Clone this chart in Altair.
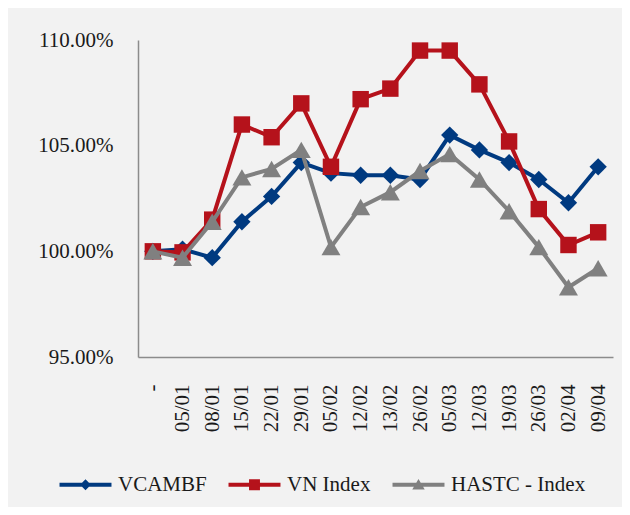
import altair as alt
import pandas as pd

dates = ["-", "05/01", "08/01", "15/01", "22/01", "29/01", "05/02", "12/02",
         "13/02", "26/02", "05/03", "12/03", "19/03", "26/03", "02/04", "09/04"]
vcambf = [100.0, 100.1, 99.7, 101.4, 102.6, 104.2, 103.7, 103.6,
          103.6, 103.4, 105.5, 104.8, 104.2, 103.4, 102.3, 104.0]
vn_index = [100.0, 99.95, 101.5, 106.0, 105.4, 107.0, 104.0, 107.2,
            107.7, 109.5, 109.5, 107.9, 105.2, 102.0, 100.3, 100.9]
hastc = [100.0, 99.7, 101.4, 103.5, 103.9, 104.8, 100.2, 102.1,
         102.8, 103.8, 104.6, 103.4, 101.9, 100.2, 98.3, 99.2]

series = ["VCAMBF", "VN Index", "HASTC - Index"]
colors = ["#003A80", "#B5121B", "#808080"]
shapes = ["diamond", "square", "triangle-up"]
sizes = [300, 270, 360]

# legend symbols: line segment + marker (custom paths)
line_part = "M-5,-0.38 L5,-0.38 L5,0.38 L-5,0.38 Z "
legend_paths = [
    line_part + "M0,-1.05 L1.05,0 L0,1.05 L-1.05,0 Z",
    line_part + "M-1.05,-1.05 L1.05,-1.05 L1.05,1.05 L-1.05,1.05 Z",
    line_part + "M0,-1.1 L1.2,0.9 L-1.2,0.9 Z",
]

rows = []
for s, vals in zip(series, [vcambf, vn_index, hastc]):
    for d, v in zip(dates, vals):
        rows.append({"series": s, "date": d, "value": v})
df = pd.DataFrame(rows)

FONT = "Liberation Serif"
TXT = "#1a1a1a"
AX = "#8c8c8c"

color_scale = alt.Scale(domain=series, range=colors)

x_enc = alt.X(
    "date:N", sort=dates, title=None,
    scale=alt.Scale(type="point", padding=0.5),
    axis=alt.Axis(labelAngle=270, labelAlign="right", labelBaseline="middle",
                  labelPadding=27, ticks=False, grid=False, domainColor=AX,
                  domainWidth=1.5, labelFont=FONT, labelFontSize=21,
                  labelColor=TXT, labelOverlap=False),
)
y_enc = alt.Y(
    "value:Q", title=None,
    scale=alt.Scale(domain=[95, 110], nice=False, zero=False),
    axis=alt.Axis(values=[95, 100, 105, 110], ticks=False, grid=False,
                  domainColor=AX, domainWidth=1.5, labelPadding=25,
                  labelFont=FONT, labelFontSize=21, labelColor=TXT,
                  labelExpr="format(datum.value, '.2f') + '%'"),
)

layers = []
for s, sh, sz in zip(series, shapes, sizes):
    base = alt.Chart(df).transform_filter(alt.datum.series == s)
    layers.append(base.mark_line(strokeWidth=4).encode(
        x=x_enc, y=y_enc,
        color=alt.Color("series:N", scale=color_scale, legend=None)))
    layers.append(base.mark_point(filled=True, shape=sh, size=sz, opacity=1).encode(
        x=x_enc, y=y_enc,
        color=alt.Color("series:N", scale=color_scale, legend=None)))

leg = alt.Legend(orient="none", legendX=-63, legendY=434, direction="horizontal",
                 title=None, symbolSize=108, symbolOpacity=1, symbolStrokeWidth=0,
                 labelOffset=22, columnPadding=21, labelFont=FONT,
                 labelFontSize=21, labelColor=TXT, labelLimit=300)

legend_layer = alt.Chart(df).mark_point(filled=True, opacity=0).encode(
    x=x_enc, y=y_enc,
    color=alt.Color("series:N", scale=color_scale, legend=leg),
    shape=alt.Shape("series:N", scale=alt.Scale(domain=series, range=legend_paths),
                    legend=leg),
)
layers.append(legend_layer)

chart = alt.layer(*layers).resolve_scale(
    color="independent", shape="independent"
).properties(
    width=475, height=317,
    padding={"left": 130, "top": 32, "right": 9, "bottom": 150},
    autosize=alt.AutoSizeParams(type="none"),
    background="#f2f2f2",
).configure(
    font=FONT,
    style={"guide-label": {"font": FONT}, "text": {"font": FONT}},
).configure_view(stroke=None).configure_legend(labelFont=FONT)

chart.save("out.html", embed_options={"renderer": "svg", "actions": False})
